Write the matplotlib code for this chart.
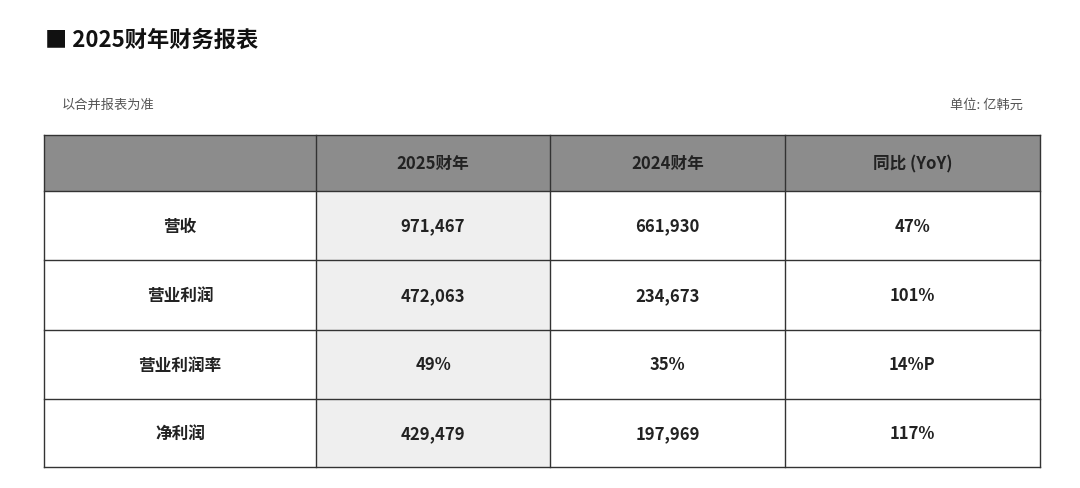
import matplotlib
matplotlib.use("Agg")
import matplotlib.pyplot as plt
from matplotlib.patches import Rectangle

plt.rcParams['font.family'] = ['Noto Sans CJK SC', 'DejaVu Sans']

title = "■ 2025财年财务报表"
note_left = "以合并报表为准"
note_right = "单位: 亿韩元"
columns = ["", "2025财年", "2024财年", "同比 (YoY)"]
row_labels = ["营收", "营业利润", "营业利润率", "净利润"]
fy2025 = ["971,467", "472,063", "49%", "429,479"]
fy2024 = ["661,930", "234,673", "35%", "197,969"]
yoy = ["47%", "101%", "14%P", "117%"]

fig = plt.figure(figsize=(10.8, 4.89), dpi=100)
ax = fig.add_axes([0, 0, 1, 1])
ax.set_xlim(0, 1080); ax.set_ylim(489, 0); ax.axis('off')

ax.text(45, 40, title, fontsize=16, fontweight='bold', va='center', ha='left', color='#111')
ax.text(62, 105, note_left, fontsize=9.5, va='center', ha='left', color='#555')
ax.text(1023, 105, note_right, fontsize=9.5, va='center', ha='right', color='#555')

xs = [44, 316, 550, 785, 1040]
ys = [136, 192, 261, 331, 400, 468]

# header background
ax.add_patch(Rectangle((xs[0], ys[0]), xs[-1]-xs[0], ys[1]-ys[0], facecolor='#8c8c8c', edgecolor='none'))
# 2025 column light bg
ax.add_patch(Rectangle((xs[1], ys[1]), xs[2]-xs[1], ys[-1]-ys[1], facecolor='#efefef', edgecolor='none'))

for x in xs:
    ax.plot([x, x], [ys[0], ys[-1]], color='#333', lw=1)
for y in ys:
    ax.plot([xs[0], xs[-1]], [y, y], color='#333', lw=1)

def cx(i): return (xs[i]+xs[i+1])/2
def cy(j): return (ys[j]+ys[j+1])/2

for i, c in enumerate(columns):
    if c:
        ax.text(cx(i), cy(0), c, fontsize=12, fontweight='bold', ha='center', va='center', color='#222')
for j in range(len(row_labels)):
    for i, val in enumerate([row_labels[j], fy2025[j], fy2024[j], yoy[j]]):
        ax.text(cx(i), cy(j+1), val, fontsize=12, fontweight='bold', ha='center', va='center', color='#222')

fig.savefig("out.png", dpi=100, facecolor='white')
